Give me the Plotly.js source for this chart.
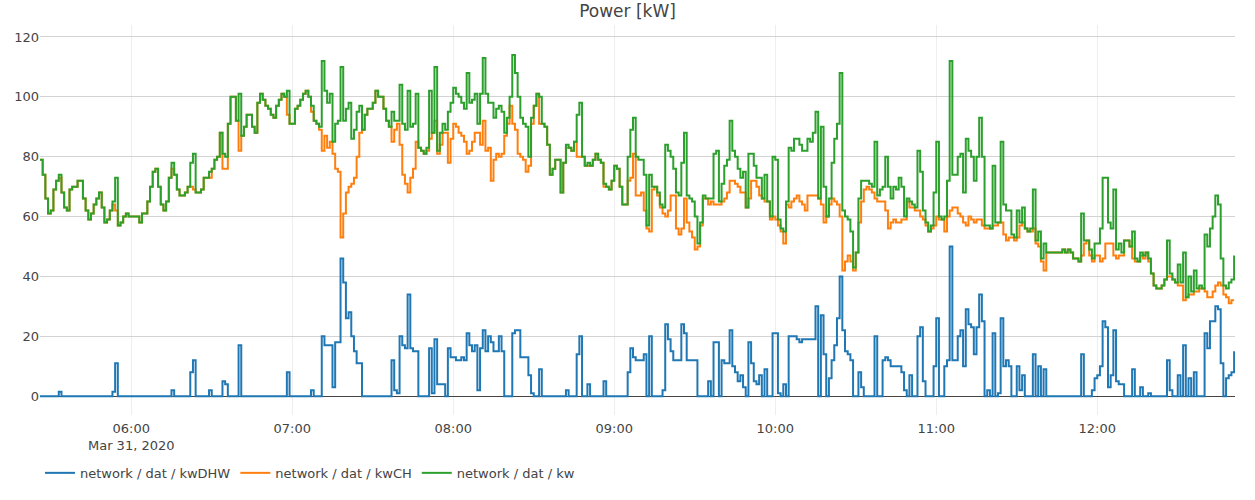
<!DOCTYPE html>
<html>
<head>
<meta charset="utf-8">
<script src="https://cdn.plot.ly/plotly-3.0.1.min.js"></script>
<style>
	html, body { margin: 0; padding: 0; background: #fff; }
	#chart { width: 1255px; height: 500px; }
</style>
</head>
<body>
<div id="chart"></div>
<script>
// one sample per minute, first sample at 05:26
const day = "2020-03-31"
const startMinute = 5 * 60 + 26
const stepMinutes = 1

const seriesNames = ["network / dat / kwDHW", "network / dat / kwCH", "network / dat / kw"]

const kwDHW = [
	0,0,0,0,0,0,0,1.5,0,0, 0,0,0,0,0,0,0,0,0,0, 0,0,0,0,0,0,0,1.5,11,0, 0,0,0,0,0,0,0,0,0,0, 0,0,0,0,0,0,0,0,0,2, 0,0,0,0,0,0,
	8,12,0,0,0,0,0,2,0,0, 0,0,5,4,0,0,0,0,17,0, 0,0,0,0,0,0,0,0,0,0, 0,0,0,0,0,0,8,0,0,0, 0,0,0,0,0,2,0,0,0,20, 17,17,17,3,18,18,
	46,38,26,28,20,15,11,11,0,0, 0,0,0,0,0,0,0,0,0,12, 2,1,20,17,16,34,16,15,15,0, 0,0,0,16,1,19,4,4,4,0, 16,13,13,12,12,13,12,21,17,15, 17,2,16,22,15,20,
	18,15,15,20,15,0,0,0,21,22, 22,13,13,13,7,1,0,0,9,0, 0,0,0,0,0,0,0,0,2,0, 0,0,14,20,0,0,4,0,0,0, 0,0,5,0,0,0,0,0,0,0, 0,8,16,13,12,12,
	12,14,0,20,0,0,0,0,2,24, 19,15,12,12,12,24,21,12,12,12, 12,0,0,0,0,5,0,18,18,0, 12,11,11,22,10,8,5,7,3,0, 18,11,5,4,7,0,9,0,0,21, 21,1,0,4,0,
	20,20,20,19,18,19,19,19,19,19, 30,0,27,14,0,6,12,17,26,40, 22,15,14,12,0,0,8,3,0,0, 0,0,20,0,0,12,13,12,10,10, 10,10,8,2,0,7,0,0,20,23, 5,0,0,0,10,26,
	0,0,10,12,50,12,12,20,22,10, 29,24,23,14,23,34,25,0,2,0, 21,0,1,26,10,12,10,0,0,10, 2,7,0,0,0,14,0,10,0,9, 0,0,0,0,0,0,0,0,0,0, 0,0,0,14,0,0,
	0,2,6,7,10,25,23,3,7,22, 5,4,4,0,0,0,9,0,0,3, 0,0,1,0,0,0,0,0,0,12, 2,0,0,7,0,17,0,6,0,8, 0,0,0,21,16,25,25,30,29,11, 0,6,7,8,15
]

const kwCH = [
	79,74,66,61,62,69,72,73,68,63, 62,69,70,70,72,72,66,62,59,61, 64,66,68,63,58,59,62,64,62,57, 58,60,61,60,60,60,60,58,61,61, 65,70,75,76,70,64,62,65,73,76, 74,69,67,67,68,70,
	70,69,68,68,69,73,73,73,76,79, 80,88,76,76,91,100,100,92,82,87, 90,94,94,90,88,98,101,99,97,96, 94,93,97,99,101,100,94,91,91,96, 97,99,101,102,100,95,92,91,89,82, 87,83,85,81,76,75,
	53,61,68,70,71,73,80,88,89,94, 96,96,98,102,100,100,96,92,90,85, 89,91,84,74,71,68,73,76,85,83, 82,81,82,86,88,92,81,84,88,88, 78,86,91,90,88,87,85,81,82,85, 88,88,84,92,82,83,
	72,79,81,80,81,87,91,97,91,89, 81,80,79,75,77,91,97,101,91,91, 90,84,74,76,79,79,68,78,83,83, 82,85,80,80,80,77,77,77,79,81, 79,78,70,70,69,72,77,76,70,64, 64,72,73,81,67,67,
	68,62,56,55,69,70,67,63,61,60, 62,67,67,56,54,56,66,58,55,53, 49,50,57,66,66,64,65,64,64,64, 65,66,68,72,72,71,70,68,68,63, 66,72,72,70,67,66,65,65,59,60, 59,57,55,51,64,
	63,65,66,67,65,64,62,67,67,67, 67,66,64,58,60,64,66,65,64,60, 42,45,47,45,42,48,58,65,69,70, 69,68,66,65,65,65,62,56,58,59, 58,58,59,59,65,63,63,62,62,60, 59,57,55,56,57,60,
	59,59,55,60,62,63,63,61,60,58, 57,60,59,58,59,59,57,56,56,56, 57,57,58,58,54,52,53,53,52,53, 57,58,56,55,55,56,51,50,45,42, 48,48,48,48,48,48,49,48,49,48, 46,46,45,47,51,52,
	47,45,47,47,45,46,51,51,51,47, 46,47,47,52,52,50,46,45,45,47, 46,48,45,41,37,36,36,37,39,40, 40,39,38,37,37,32,33,34,34,35, 35,36,36,35,33,33,35,37,38,37, 34,33,31,32,32
]

const kw = [
	79,74,66,61,62,69,72,74,68,63, 62,69,70,70,72,72,66,62,59,61, 64,66,68,63,58,59,62,65,73,57, 58,60,61,60,60,60,60,58,61,61, 65,70,75,76,70,64,62,65,73,78, 74,69,67,67,68,70,
	78,81,68,68,69,73,73,75,76,79, 80,88,81,80,91,100,100,92,101,87, 90,94,94,90,88,98,101,99,97,96, 94,93,97,99,101,100,102,91,91,96, 97,99,101,102,100,97,92,91,90,112, 102,98,101,85,91,92,
	110,92,96,98,86,89,95,97,89,94, 96,96,98,102,100,100,96,92,90,95, 92,92,104,91,89,102,90,91,101,83, 82,81,83,102,88,110,82,88,91,89, 95,98,103,101,100,98,96,108,98,99, 101,91,101,113,101,98,
	98,93,96,97,95,88,93,100,114,108, 100,93,91,90,80,93,97,101,100,91, 90,84,74,76,79,79,68,78,84,83, 82,85,94,98,80,77,78,77,79,81, 79,78,71,70,69,72,77,76,70,64, 64,80,89,93,80,79,
	79,74,57,74,70,70,68,64,63,84, 82,80,76,68,67,78,88,67,66,65, 60,51,58,67,66,66,66,81,82,65, 71,77,79,92,82,80,76,73,75,63, 81,81,77,73,73,66,74,65,60,80, 79,59,56,55,65,
	83,82,86,86,84,82,82,86,85,88, 95,66,90,70,60,66,78,86,91,108, 62,60,59,55,43,48,66,72,72,72, 71,70,85,67,69,70,80,70,66,70, 69,73,70,60,66,65,64,63,82,75, 62,58,55,57,68,85,
	60,59,60,72,112,74,74,80,81,68, 86,82,80,72,80,93,80,57,57,56, 77,58,58,85,64,62,62,54,53,62, 58,63,56,55,56,69,52,55,46,51, 48,48,48,48,48,48,49,48,49,48, 46,46,45,61,52,52,
	49,46,51,51,56,73,73,58,56,69, 49,51,48,52,52,50,55,46,45,48, 47,48,46,41,37,36,36,37,39,52, 41,39,38,44,38,48,33,40,35,42, 36,37,36,54,50,56,60,67,64,46, 37,36,38,39,47
]

const colors = ["#1f77b4", "#ff7f0e", "#2ca02c"]

function pad(n) { return String(n).padStart(2, "0") }
function stamp(minute) {
	return `${day} ${pad(Math.floor(minute / 60))}:${pad(minute % 60)}`
}

const times = kw.map((_, i) => stamp(startMinute + i * stepMinutes))

const data = [kwDHW, kwCH, kw].map((ys, k) => ({
	type: "scatter",
	mode: "lines",
	name: seriesNames[k],
	x: times,
	y: ys,
	line: { color: colors[k], width: 2, shape: "hv" }
}))

const layout = {
	width: 1255,
	height: 500,
	font: { family: "DejaVu Sans, Verdana, sans-serif", size: 13, color: "#444" },
	title: { text: "Power [kW]", font: { size: 17 }, x: 0.5, xanchor: "center", y: 0.978, yanchor: "middle" },
	margin: { l: 40, r: 20, t: 25, b: 81 },
	paper_bgcolor: "#fff",
	plot_bgcolor: "#fff",
	showlegend: true,
	legend: { orientation: "h", x: 0, y: -0.11, xanchor: "left", yanchor: "top", font: { size: 13 } },
	xaxis: {
		type: "date",
		range: [`${day} 05:26`, `${day} 12:51:20`],
		dtick: 3600000,
		tick0: `${day} 00:00`,
		gridcolor: "#eee",
		showline: false,
		zeroline: false,
		ticklabelstandoff: 4
	},
	yaxis: {
		range: [-6.3, 124],
		tickvals: [0, 20, 40, 60, 80, 100, 120],
		gridcolor: "#d3d3d3",
		zeroline: true,
		zerolinecolor: "#444",
		zerolinewidth: 1
	}
}

Plotly.newPlot("chart", data, layout, { displayModeBar: false, staticPlot: true })
</script>
</body>
</html>
